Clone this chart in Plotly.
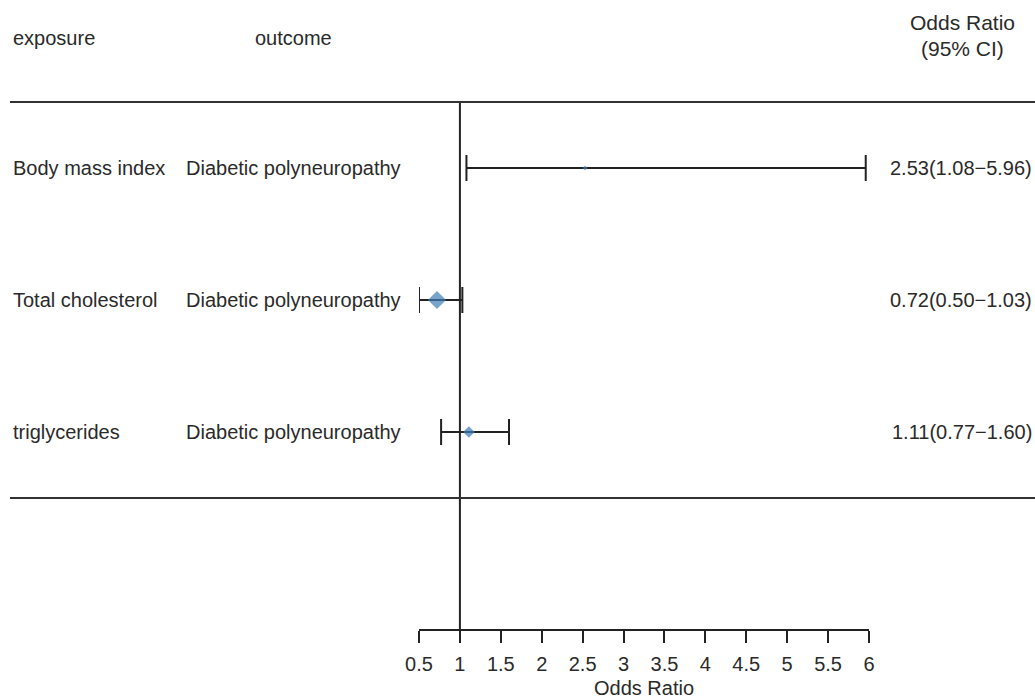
import plotly.graph_objects as go

# Forest plot data
exposures = ["Body mass index", "Total cholesterol", "triglycerides"]
outcomes = ["Diabetic polyneuropathy", "Diabetic polyneuropathy", "Diabetic polyneuropathy"]
odds_ratio = [2.53, 0.72, 1.11]
ci_low = [1.08, 0.50, 0.77]
ci_high = [5.96, 1.03, 1.60]
box_size = [3.5, 14, 9]
x_ticks = [0.5, 1, 1.5, 2, 2.5, 3, 3.5, 4, 4.5, 5, 5.5, 6]
x_tick_labels = ["0.5", "1", "1.5", "2", "2.5", "3", "3.5", "4", "4.5", "5", "5.5", "6"]

W, H = 1035, 699
FONT = "Liberation Sans, Arial, sans-serif"
TXT = "#2a2a2a"
FS = 20
LINE = "#222222"

rows = list(range(1, len(exposures) + 1))
row_px0, row_step = 168, 132


def px_to_row(py):
    return 1 + (py - row_px0) / row_step


def pxx(px):
    return px / W


def pxy(py):
    return 1 - py / H


fig = go.Figure()
fig.add_trace(go.Scatter(
    x=odds_ratio, y=rows, mode="markers",
    marker=dict(symbol="diamond", size=box_size, color="#3f7db6",
                line=dict(width=0)),
    error_x=dict(type="data", symmetric=False,
                 array=[h - o for h, o in zip(ci_high, odds_ratio)],
                 arrayminus=[o - l for o, l in zip(odds_ratio, ci_low)],
                 color=LINE, thickness=2, width=13),
    showlegend=False, hoverinfo="skip",
))

# reference line at OR = 1
fig.add_shape(type="line", xref="x", yref="y", x0=1, x1=1,
              y0=0.5, y1=len(rows) + 1.5, line=dict(color=LINE, width=2), layer="below")
# table rules
for yr in (0.5, len(rows) + 0.5):
    fig.add_shape(type="line", xref="paper", yref="y", x0=pxx(10), x1=1,
                  y0=yr, y1=yr, line=dict(color="#333333", width=2))

ann = []
ann.append(dict(text="exposure", x=pxx(11), y=pxy(38), xanchor="left", size=FS))
ann.append(dict(text="outcome", x=pxx(253), y=pxy(38), xanchor="left", size=FS))
ann.append(dict(text="Odds Ratio", x=pxx(962), y=pxy(22), xanchor="center", size=21))
ann.append(dict(text="(95% CI)", x=pxx(962), y=pxy(48), xanchor="center", size=21))
for r, e, o, orv, lo, hi in zip(rows, exposures, outcomes, odds_ratio, ci_low, ci_high):
    yy = pxy(row_px0 + (r - 1) * row_step)
    ann.append(dict(text=e, x=pxx(11), y=yy, xanchor="left", size=FS))
    ann.append(dict(text=o, x=pxx(184), y=yy, xanchor="left", size=FS))
    ann.append(dict(text=f"{orv:.2f}({lo:.2f}\u2212{hi:.2f})", x=pxx(1034), y=yy,
                    xanchor="right", size=FS))
for a in ann:
    sz = a.pop("size")
    a.update(xref="paper", yref="paper", yanchor="middle", showarrow=False,
             font=dict(family=FONT, size=sz, color=TXT))
fig.update_layout(annotations=ann)

fig.update_xaxes(
    domain=[pxx(419), pxx(869)], range=[0.5, 6], anchor="free", position=pxy(630),
    tickvals=x_ticks, ticktext=x_tick_labels, ticks="outside", ticklen=12,
    tickwidth=2, tickcolor=LINE, showline=True, linecolor=LINE, linewidth=2,
    showgrid=False, zeroline=False, automargin=False, ticklabelstandoff=4,
    tickfont=dict(family=FONT, size=FS, color=TXT),
    title=dict(text="Odds Ratio", font=dict(family=FONT, size=FS, color=TXT), standoff=8),
)
fig.update_yaxes(range=[px_to_row(H), px_to_row(0)], visible=False, showgrid=False,
                 zeroline=False, automargin=False)

fig.update_layout(width=W, height=H, margin=dict(l=0, r=0, t=0, b=0),
                  plot_bgcolor="white", paper_bgcolor="white")

fig.write_html("out.html")
